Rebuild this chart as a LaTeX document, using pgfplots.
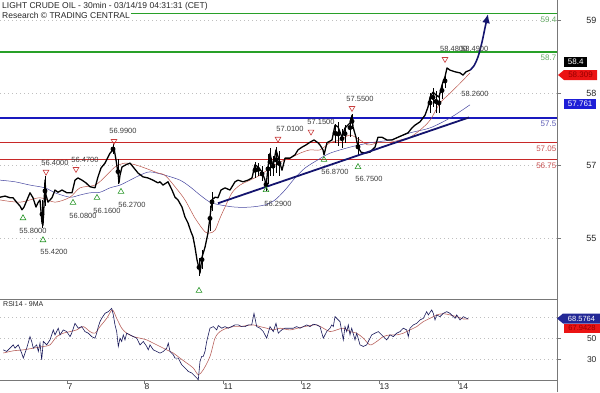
\documentclass[border=0pt]{standalone}
\usepackage{pgfplots}
\pgfplotsset{compat=1.18}
\usepackage{fontspec}
\setmainfont{Liberation Sans}
\usetikzlibrary{arrows.meta}
\definecolor{lvgreen}{RGB}{40,160,40}
\definecolor{lvgreenT}{RGB}{100,170,100}
\definecolor{lvblue}{RGB}{25,25,190}
\definecolor{lvblueT}{RGB}{90,90,180}
\definecolor{lvred}{RGB}{200,40,40}
\definecolor{lvredT}{RGB}{200,80,80}
\definecolor{trend}{RGB}{20,20,110}
\definecolor{maRed}{RGB}{185,85,75}
\definecolor{maBlue}{RGB}{70,70,160}
\definecolor{rsiBlue}{RGB}{25,25,90}
\definecolor{rsiRed}{RGB}{185,100,95}
\definecolor{axgray}{RGB}{120,120,120}
\definecolor{labtxt}{RGB}{60,60,60}
\definecolor{triRed}{RGB}{200,60,60}
\definecolor{triGreen}{RGB}{40,150,40}
\definecolor{boxBlue}{RGB}{30,30,215}
\definecolor{boxNavy}{RGB}{35,40,150}
\definecolor{boxRed}{RGB}{235,20,20}
\definecolor{boxRedT}{RGB}{150,0,0}
\begin{document}
\begin{tikzpicture}
\begin{axis}[
  at={(0pt,93pt)}, anchor=south west, scale only axis,
  width=557pt, height=299pt,
  xmin=0, xmax=557, ymin=54.209, ymax=59.6455,
  axis x line*=bottom, axis y line*=right,
  axis line style={draw=axgray, line width=0.6pt},
  xtick=\empty,
  ytick={55.318,56.645,57.955,59.282}, yticklabels={55,57,58,59},
  tick align=outside, major tick length=4pt,
  tick style={axgray, line width=0.6pt},
  yticklabel style={anchor=east, xshift=39pt, font=\fontsize{9}{10}\selectfont, text=black!85},
  ymajorgrids, grid style={gray!50, line width=0.5pt, dash pattern=on 0.8pt off 3.2pt},
  clip=false,
]
% level lines
\addplot[draw=lvgreen, line width=1.1pt] coordinates {(131,59.4) (557,59.4)};
\addplot[draw=lvgreen, line width=1.1pt] coordinates {(0,58.7) (557,58.7)};
\addplot[draw=lvblue, line width=1.1pt] coordinates {(0,57.5) (557,57.5)};
\addplot[draw=lvred, line width=1.1pt] coordinates {(0,57.05) (557,57.05)};
\addplot[draw=lvred, line width=1.1pt] coordinates {(0,56.75) (557,56.75)};
\node[anchor=east, font=\fontsize{8}{9}\selectfont, text=lvgreenT, inner sep=0.5pt] at (axis cs:557,59.29) {59.4};
\node[anchor=east, font=\fontsize{8}{9}\selectfont, text=lvgreenT, inner sep=0.5pt] at (axis cs:557,58.59) {58.7};
\node[anchor=east, font=\fontsize{8}{9}\selectfont, text=lvblueT, inner sep=0.5pt] at (axis cs:557,57.39) {57.5};
\node[anchor=east, font=\fontsize{8}{9}\selectfont, text=lvredT, inner sep=0.5pt] at (axis cs:557,56.94) {57.05};
\node[anchor=east, font=\fontsize{8}{9}\selectfont, text=lvredT, inner sep=0.5pt] at (axis cs:557,56.63) {56.75};
% blue MA
\addplot[draw=maBlue, line width=0.5pt, smooth] coordinates {
(0,56.37) (15,56.34) (30,56.28) (45,56.23) (55,56.14) (70,56.06) (80,56.10) (90,56.14)
(100,56.15) (110,56.23) (120,56.28) (130,56.37) (140,56.46) (150,56.52) (165,56.46)
(180,56.37) (190,56.25) (200,56.10) (210,55.97) (220,55.92) (235,55.88) (250,55.88)
(265,55.92) (275,56.01) (285,56.19) (295,56.41) (305,56.59) (318,56.74) (330,56.86)
(350,56.97) (370,57.05) (390,57.10) (410,57.23) (430,57.32) (450,57.50) (470,57.74)};
% red MA
\addplot[draw=maRed, line width=0.5pt, smooth] coordinates {
(0,56.01) (20,55.97) (40,56.05) (55,55.97) (70,56.06) (80,56.23) (95,56.28) (105,56.43)
(115,56.61) (125,56.68) (135,56.65) (145,56.59) (158,56.50) (165,56.46) (175,56.25)
(185,56.01) (195,55.68) (205,55.43) (210,55.41) (215,55.46) (220,55.68) (225,55.88)
(232,56.14) (240,56.28) (250,56.37) (260,56.46) (270,56.59) (280,56.70) (290,56.77)
(300,56.86) (310,56.92) (320,56.92) (330,57.05) (340,57.10) (350,57.19) (360,57.10)
(368,57.01) (378,57.05) (390,57.06) (400,57.10) (410,57.15) (420,57.28) (430,57.46)
(440,57.77) (450,57.95) (460,58.13) (470,58.32)};
% price (closes)
\addplot[draw=black, line width=1.3pt, line join=round] coordinates {
(0,56.06) (5,56.08) (10,56.05) (13,56.05) (17,55.96) (20,55.90) (22,55.83) (24,55.88)
(27,56.01) (30,56.14) (33,56.05) (36,55.88) (38,55.96) (40,56.01) (42,55.59) (43,55.55)
(44,55.92) (45,56.37) (46,56.10) (48,55.97) (52,56.05) (55,56.19) (58,56.15) (62,56.19)
(67,56.14) (72,56.14) (75,56.37) (78,56.41) (82,56.37) (86,56.32) (90,56.25) (95,56.23)
(98,56.43) (101,56.59) (105,56.68) (110,56.86) (113,56.92) (114,56.95) (116,56.74)
(118,56.50) (119,56.32) (120,56.46) (122,56.61) (126,56.65) (130,56.68) (134,56.59)
(138,56.50) (143,56.43) (148,56.41) (153,56.37) (158,56.32) (160,56.34) (163,56.28)
(168,56.34) (172,56.19) (175,56.06) (178,56.01) (182,55.88) (185,55.70) (188,55.59)
(191,55.43) (193,55.34) (195,55.15) (197,54.92) (199,54.77) (200,54.68) (202,54.97)
(205,55.15) (208,55.41) (210,55.70) (212,56.01) (215,56.06) (218,56.05) (221,56.19)
(225,56.23) (230,56.19) (235,56.34) (238,56.37) (243,56.34) (248,56.37) (252,56.41)
(255,56.65) (258,56.61) (262,56.52) (265,56.37) (266,56.23) (268,56.61) (270,56.86)
(273,56.61) (276,56.92) (279,56.74) (282,56.55) (285,56.77) (290,56.77) (295,56.83)
(298,56.92) (302,56.97) (306,57.01) (310,57.06) (314,57.10) (318,57.05) (320,57.01)
(323,56.92) (324,56.83) (327,57.05) (332,57.10) (335,57.37) (338,57.34) (342,57.15)
(345,57.32) (350,57.41) (352,57.55) (353,57.34) (356,57.15) (358,56.97) (361,56.88)
(365,56.86) (370,56.88) (375,56.97) (378,57.15) (382,57.15) (387,57.10) (392,57.10)
(398,57.15) (403,57.19) (408,57.23) (412,57.32) (415,57.37) (420,57.43) (425,57.55)
(428,57.70) (430,57.88) (433,57.97) (436,57.92) (439,57.88) (442,58.10) (445,58.25)
(447,58.41) (450,58.37) (455,58.34) (460,58.32) (463,58.28) (466,58.34) (470,58.37)};
% high-low wicks
\addplot[black, line width=0.9pt, only marks, mark=none,
  error bars/.cd, y dir=both, y explicit, error mark=none] coordinates {
(42,55.75) +- (0,0.25) (45,56.175) +- (0,0.275) (113,56.935) +- (0,0.085)
(118,56.525) +- (0,0.225) (199,54.785) +- (0,0.165) (202,54.925) +- (0,0.175)
(210,55.675) +- (0,0.225) (212,55.975) +- (0,0.175) (255,56.55) +- (0,0.15)
(258,56.565) +- (0,0.115) (262,56.485) +- (0,0.135) (266,56.29) +- (0,0.11)
(268,56.575) +- (0,0.275) (270,56.70) +- (0,0.25) (273,56.625) +- (0,0.175)
(276,56.74) +- (0,0.24) (279,56.675) +- (0,0.225) (335,57.225) +- (0,0.175)
(338,57.21) +- (0,0.21) (342,57.125) +- (0,0.175) (345,57.215) +- (0,0.165)
(350,57.325) +- (0,0.175) (352,57.44) +- (0,0.14) (358,56.975) +- (0,0.175)
(430,57.775) +- (0,0.175) (433,57.875) +- (0,0.175) (436,57.80) +- (0,0.20)
(439,57.775) +- (0,0.175) (442,58.00) +- (0,0.15) (445,58.175) +- (0,0.125)};
% trendline
\addplot[draw=trend, line width=1.8pt] coordinates {(218,55.95) (469,57.51)};
% projection arrow
\addplot[draw=trend, line width=1.6pt, smooth, -{Latex[length=9pt,width=8pt]}] coordinates {
(470,58.37) (474,58.45) (478,58.61) (482,58.88) (485,59.14) (488,59.39)};
% swing markers
\addplot[only marks, mark=triangle, mark size=3.3pt, mark options={draw=triRed, fill=white, rotate=180, line width=0.6pt}] coordinates {
(46,56.52) (76,56.57) (114,57.08) (278,57.12) (311,57.25) (352,57.68) (445,58.57)};
\addplot[only marks, mark=triangle, mark size=3.3pt, mark options={draw=triGreen, fill=white, line width=0.6pt}] coordinates {
(23,55.68) (43,55.28) (73,55.96) (97,56.05) (121,56.16) (199,54.36) (266,56.19) (324,56.74) (358,56.61)};
% swing labels
\begin{scope}[every node/.style={font=\fontsize{7.5}{8}\selectfont, text=labtxt, inner sep=0pt}]
\node at (axis cs:55,56.68) {56.4000};
\node at (axis cs:85,56.74) {56.4700};
\node at (axis cs:123,57.26) {56.9900};
\node at (axis cs:33,55.45) {55.8000};
\node at (axis cs:54,55.06) {55.4200};
\node at (axis cs:83,55.72) {56.0800};
\node at (axis cs:107,55.81) {56.1600};
\node at (axis cs:132,55.92) {56.2700};
\node at (axis cs:290,57.30) {57.0100};
\node at (axis cs:321,57.43) {57.1500};
\node at (axis cs:360,57.85) {57.5500};
\node[anchor=west] at (axis cs:440,58.76) {58.4800};
\node[anchor=west] at (axis cs:461,58.76) {58.4900};
\node at (axis cs:475,57.94) {58.2600};
\node at (axis cs:278,55.94) {56.2900};
\node at (axis cs:335,56.52) {56.8700};
\node at (axis cs:369,56.39) {56.7500};
\end{scope}
\end{axis}
% RSI panel
\begin{axis}[
  at={(0pt,12pt)}, anchor=south west, scale only axis,
  width=557pt, height=81pt,
  xmin=0, xmax=557, ymin=10.6, ymax=86.9,
  axis x line*=bottom, axis y line*=right,
  axis line style={draw=axgray, line width=0.6pt},
  xtick={67,144,223,301,379,458}, xticklabels={7,8,11,12,13,14},
  ytick={30,50,70}, yticklabels={30,50,{}},
  tick align=outside, major tick length=4pt,
  tick style={axgray, line width=0.6pt},
  yticklabel style={anchor=east, xshift=39pt, font=\fontsize{8.5}{9}\selectfont, text=black!85},
  xticklabel style={anchor=north west, xshift=-0.5pt, yshift=1.5pt, inner sep=1pt, font=\fontsize{8.5}{9}\selectfont, text=black!85},
  ymajorgrids, grid style={gray!50, line width=0.5pt, dash pattern=on 0.8pt off 3.2pt},
  clip=false,
]
\addplot[draw=rsiRed, line width=0.6pt, smooth] coordinates {
(3.3,36.0) (13.3,38.1) (23.3,39.0) (33.3,40.6) (43.3,42.2) (50,43.7) (56.7,51.5) (63.3,54.7)
(70,56.2) (76.7,57.8) (83.3,60.9) (90,56.2) (95,54.7) (100,60.9) (106.7,68.7) (112.3,76.6)
(116.7,68.7) (121.7,59.4) (126.7,54.7) (133.3,51.5) (140,50.0) (146.7,48.4) (153.3,45.3)
(160,42.2) (166.7,39.0) (173.3,36.0) (180,31.2) (186.7,26.6) (193.3,21.9) (198.3,15.6)
(203.3,20.3) (210,32.8) (215,50.0) (220,56.2) (226.7,59.4) (233.3,60.9) (240,60.9)
(246.7,61.9) (253.3,62.5) (260,60.9) (266.7,59.4) (273.3,57.8) (280,59.4) (290,57.8)
(300,60.0) (310,61.9) (316.7,62.5) (323.3,59.4) (330,56.2) (336.7,57.8) (343.3,59.4)
(350,56.2) (356.7,54.7) (363.3,50.0) (370,43.7) (376.7,46.9) (383.3,51.5) (390,53.1)
(396.7,53.1) (403.3,54.7) (410,57.8) (416.7,60.9) (423.3,65.6) (430,68.7) (436.7,71.9)
(443.3,73.1) (450,71.9) (456.7,70.3) (463.3,68.1) (468.3,68.1)};
\addplot[draw=rsiBlue, line width=0.6pt] coordinates {
(3.3,39.0) (6.7,37.5) (10,40.6) (13.3,43.7) (15,40.6) (18.3,43.7) (21.7,35.9) (23.3,31.2)
(26.7,40.6) (30,51.5) (31.7,46.9) (33.3,40.6) (36.7,43.7) (38.3,37.5) (40,45.3) (41.7,29.7)
(43.3,46.9) (46.7,43.7) (50,48.4) (53.3,57.8) (55,53.1) (58.3,59.4) (60,53.1) (63.3,57.8)
(66.7,56.2) (70,51.5) (71.7,54.7) (75,64.0) (78.3,59.4) (81.7,60.9) (85,56.2) (88.3,54.7)
(91.7,51.5) (95,50.0) (96.7,54.7) (98.3,60.9) (100,65.6) (101.7,68.7) (105,73.4) (108.3,75.0)
(111.7,78.1) (113.3,71.9) (115,62.5) (116.7,56.2) (118.3,42.2) (120,50.0) (121.7,46.9)
(123.3,53.1) (125,48.4) (126.7,54.7) (130,53.1) (133.3,51.5) (136.7,50.0) (140,43.7)
(143.3,46.9) (146.7,42.2) (148.3,39.0) (150,43.7) (153.3,39.0) (156.7,37.5) (160,35.9)
(163.3,37.5) (166.7,40.6) (168.3,45.3) (170,37.5) (173.3,34.4) (175,31.2) (178.3,31.2)
(181.7,25.0) (185,21.9) (188.3,18.7) (191.7,17.2) (195,14.1) (196.7,12.5) (198.3,10.9)
(200,28.1) (201.7,32.8) (203.3,32.8) (205,37.5) (206.7,46.9) (208.3,53.1) (210,59.4)
(213.3,60.9) (216.7,57.8) (218.3,61.9) (221.7,59.4) (225,60.9) (228.3,59.4) (231.7,60.9)
(235,62.5) (238.3,62.5) (241.7,60.9) (245,60.9) (248.3,62.5) (251.7,62.5) (254,73.4)
(256.7,60.9) (260,59.4) (263.3,56.2) (266.7,50.0) (270,60.9) (273.3,56.2) (276,64.0)
(278.3,54.7) (281.7,57.8) (285,59.4) (290,59.4) (293.3,59.4) (296.7,60.9) (300,59.4)
(303.3,60.9) (306.7,62.5) (310,60.9) (313.3,63.1) (316.7,62.5) (320,60.9) (323.3,50.0)
(326.7,56.2) (330,59.4) (331.7,62.5) (333.3,60.9) (335,70.3) (336.7,68.7) (340,65.6)
(343.3,48.4) (345,60.9) (346.7,56.2) (348.3,62.5) (350,53.1) (351.7,59.4) (355,48.4)
(356.7,54.7) (360,43.7) (363.3,42.2) (366.7,43.7) (368.3,46.9) (371.7,53.1) (375,54.7)
(378.3,56.2) (381.7,53.1) (385,50.0) (386.7,48.4) (390,53.1) (393.3,51.5) (396.7,54.7)
(400,56.2) (403.3,59.4) (406.7,57.8) (408.3,51.5) (410,59.4) (413.3,62.5) (416.7,64.0)
(420,67.2) (423.3,68.7) (426.7,75.0) (428.3,71.9) (431.7,76.6) (433.3,73.4) (435,67.2)
(436.7,71.9) (440,70.3) (443.3,73.4) (446.7,75.0) (450,73.4) (453.3,70.3) (455,68.7)
(456.7,71.9) (460,67.2) (463.3,70.3) (466.7,68.7) (468.3,68.1)};
\end{axis}
\begin{scope}[x=1pt,y=1pt]
% frame line
\draw[axgray, line width=0.7pt] (557,0) -- (557,392);
% titles
\node[anchor=north west, inner sep=0pt, font=\fontsize{8.5}{9}\selectfont, text=black!85] at (2,390) {LIGHT CRUDE OIL - 30min - 03/14/19 04:31:31 (CET)};
\node[anchor=north west, inner sep=0pt, font=\fontsize{8.5}{9}\selectfont, text=black!85] at (2,379.5) {Research \textcopyright{} TRADING CENTRAL};
\node[anchor=north west, inner sep=0pt, font=\fontsize{7}{8}\selectfont, text=black!85] at (3,90.5) {RSI14 - 9MA};
% value boxes
\node[fill=black, text=white, inner sep=0pt, minimum width=23pt, minimum height=10pt, anchor=west, font=\fontsize{8}{9}\selectfont] at (564,330) {58.4};
\fill[boxRed] (558,317) -- (564,322) -- (597,322) -- (597,312) -- (564,312) -- cycle;
\node[text=boxRedT, inner sep=0pt, font=\fontsize{8}{9}\selectfont] at (580.5,317) {58.309};
\node[fill=boxBlue, text=white, inner sep=0pt, minimum width=32pt, minimum height=10pt, anchor=west, font=\fontsize{8}{9}\selectfont] at (564,288) {57.761};
\fill[boxRed] (564,68.5) rectangle (600,59.5);
\node[text=boxRedT, inner sep=0pt, font=\fontsize{7.5}{8}\selectfont] at (582,64) {67.9428};
\fill[boxNavy] (557,73.5) -- (563,78.5) -- (600,78.5) -- (600,68.5) -- (563,68.5) -- cycle;
\node[text=white, inner sep=0pt, font=\fontsize{7.5}{8}\selectfont] at (581.5,73.5) {68.5764};
\pgfresetboundingbox
\path[use as bounding box] (0,0) rectangle (600,392);
\end{scope}
\end{tikzpicture}
\end{document}
